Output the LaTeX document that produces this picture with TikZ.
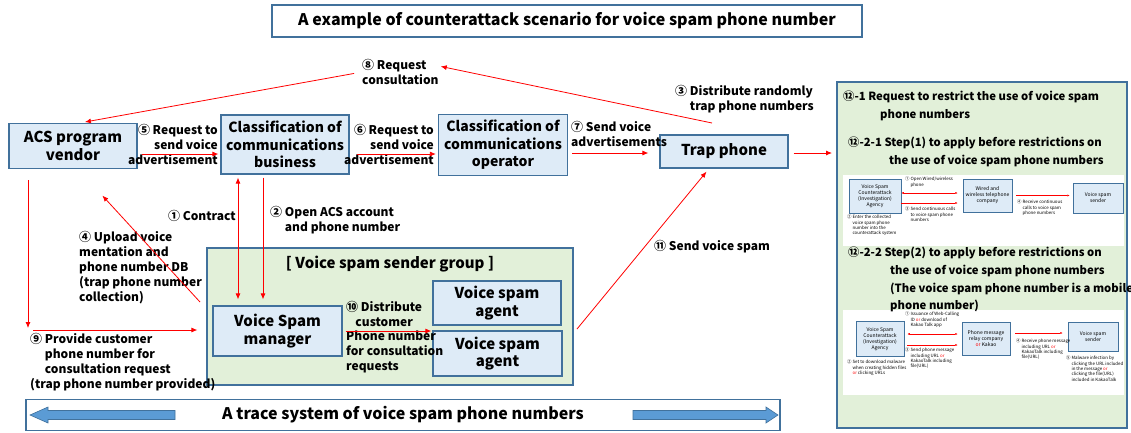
\documentclass[tikz,border=0pt]{standalone}
\usepackage{fontspec}
\setmainfont{Noto Sans CJK KR}
\usetikzlibrary{arrows.meta}
\definecolor{boxline}{HTML}{41719C}
\definecolor{boxfill}{HTML}{DEEBF7}
\definecolor{grpfill}{HTML}{E2F0D9}
\definecolor{bigblue}{HTML}{5B9BD5}
\newcommand{\orr}{\textcolor{red}{or}}
\tikzset{
	box/.style={draw=boxline, fill=boxfill, line width=1.2pt, align=center, inner sep=0pt, font=\fontsize{15}{17.5}\selectfont\bfseries},
	lbl/.style={inner sep=0pt, align=left, font=\fontsize{12}{15}\selectfont\bfseries},
	paneltxt/.style={inner sep=0pt, align=left, font=\fontsize{11.3}{17.7}\selectfont\bfseries},
	tinybox/.style={draw=boxline, fill=boxfill, line width=0.5pt, align=center, inner sep=0pt, font=\fontsize{5}{6}\selectfont},
	tinylbl/.style={inner sep=0pt, align=left, font=\fontsize{4.4}{5.3}\selectfont},
	arr/.style={draw=red, line width=0.8pt, -{Latex[length=6pt,width=5pt]}},
	tinyarr/.style={draw=red, line width=0.4pt, -{Latex[length=2.5pt,width=2pt]}},
}
\begin{document}
\begin{tikzpicture}[x=1pt,y=-1pt]
		\useasboundingbox (0,0) rectangle (1131,432);
		\node[box, fill=white, minimum width=590pt, minimum height=32pt, font=\fontsize{16}{19}\selectfont\bfseries] (title) at (567,21) {A example of counterattack scenario for voice spam phone number};
		% main boxes
		\node[box, minimum width=128pt, minimum height=45pt] (acs) at (73,146) {ACS program\\vendor};
		\node[box, minimum width=128pt, minimum height=59pt, font=\fontsize{14}{17.5}\selectfont\bfseries] (biz) at (285,144.5) {Classification of\\communications\\business};
		\node[box, minimum width=129pt, minimum height=61pt, font=\fontsize{14}{17.5}\selectfont\bfseries] (oper) at (503,145) {Classification of\\communications\\operator};
		\node[box, minimum width=128pt, minimum height=33pt] (trap) at (724,151.5) {Trap phone};
		\node[box, fill=grpfill, minimum width=366pt, minimum height=137pt] (group) at (390,316.5) {};
		\node[lbl, font=\fontsize{15}{17.5}\selectfont\bfseries] (grptitle) at (390,264) {[ Voice spam sender group ]};
		\node[box, minimum width=129pt, minimum height=50pt] (mgr) at (277.5,331) {Voice Spam\\manager};
		\node[box, minimum width=128pt, minimum height=44pt] (agent1) at (497,303) {Voice spam\\agent};
		\node[box, minimum width=129pt, minimum height=45pt] (agent2) at (497.5,353.5) {Voice spam\\agent};
		\node[box, fill=white, minimum width=754pt, minimum height=31pt, font=\fontsize{16}{18}\selectfont\bfseries] (trace) at (403,415) {A trace system of voice spam phone numbers};
		\fill[bigblue, draw=boxline, line width=0.6pt] (30,415) -- (48,407) -- (48,410.5) -- (175,410.5) -- (175,419.5) -- (48,419.5) -- (48,423) -- cycle;
		\fill[bigblue, draw=boxline, line width=0.6pt] (778,415) -- (766,407) -- (766,410.5) -- (633,410.5) -- (633,419.5) -- (766,419.5) -- (766,423) -- cycle;
		% labels
		\node[lbl, anchor=west] (n8) at (362,72) {⑧ Request\\consultation};
		\node[lbl, anchor=north west] (n3) at (675,85) {③ Distribute randomly\\\phantom{③ }trap phone numbers};
		\node[lbl, anchor=north east, align=right] (n5) at (218,124) {⑤ Request to\\send voice\\advertisement};
		\node[lbl, anchor=north east, align=right] (n6) at (434,124) {⑥ Request to\\send voice\\advertisement};
		\node[lbl, anchor=north west] (n7) at (571,121) {⑦ Send voice\\advertisements};
		\node[lbl, anchor=east] (n1) at (236,216) {① Contract};
		\node[lbl, anchor=north west] (n2) at (270,206) {② Open ACS account\\\phantom{② }and phone number};
		\node[lbl, anchor=north west] (n4) at (79,231) {④ Upload voice\\mentation and\\phone number DB\\(trap phone number\\collection)};
		\node[lbl, anchor=north west] (n9) at (30,333) {⑨ Provide customer\\\phantom{⑨ }phone number for\\\phantom{⑨ }consultation request\\(trap phone number provided)};
		\node[lbl, anchor=north west, align=center] (n10a) at (346,301) {⑩ Distribute\\customer};
		\node[lbl, anchor=north west] (n10b) at (346,331) {Phone number\\for consultation\\requests};
		\node[lbl, anchor=west] (n11) at (654,247) {⑪ Send voice spam};
		% connectors
		\coordinate (t8) at (712,123);
		\draw[arr, shorten >=2pt] (t8) -- ([yshift=6pt]n8.east);
		\draw[arr, shorten <=8pt, shorten >=5pt] (n8.west) -- ([xshift=7pt]acs.north);
		\draw[arr, shorten <=4pt, shorten >=2pt] ([yshift=-8pt]acs.east) -- ([yshift=-8pt]acs.east -| biz.west);
		\draw[arr, shorten <=7pt, shorten >=2pt] ([yshift=-9.5pt]biz.east) -- ([yshift=-9.5pt]biz.east -| oper.west);
		\draw[arr, shorten <=4pt, shorten >=11pt] ([yshift=-8pt]oper.east) -- ([yshift=-8pt]oper.east -| trap.west);
		\draw[arr, shorten <=5pt, shorten >=4pt] ([yshift=-1.5pt]trap.east) -- ([yshift=-1.5pt]trap.east -| 836,0);
		\draw[arr, {Latex[length=6pt,width=5pt]}-{Latex[length=6pt,width=5pt]}, shorten <=3pt, shorten >=6pt] ([xshift=-47pt]biz.south) -- ([xshift=-47pt]biz.south |- mgr.north);
		\draw[arr, shorten <=3pt, shorten >=6pt] ([xshift=-22pt]biz.south) -- ([xshift=-22pt]biz.south |- mgr.north);
		\coordinate (p4) at (200,302);
		\draw[arr] (p4) -- ([xshift=94pt,yshift=-26.5pt]acs.south west);
		\draw[arr, shorten <=11pt] ([xshift=-45pt]acs.south) -- ([xshift=-45pt]acs.south |- 0,328);
		\coordinate (c9) at (33,330);
		\draw[arr, shorten >=9pt] (c9) -- (c9 -| group.west);
		\draw[arr, shorten <=3pt, shorten >=1pt] (mgr.east) -- (mgr.east -| agent2.west);
		\coordinate (c11) at (577,329);
		\draw[arr, shorten >=4pt] (c11) -- ([xshift=-15pt]trap.south);
		% right panel
		\node[box, fill=grpfill, minimum width=290pt, minimum height=346pt] (panel) at (982,255) {};
		\node[draw=none, fill=white, minimum width=281pt, minimum height=71pt, inner sep=0pt] (inset1) at (983.5,210.5) {};
		\node[draw=none, fill=white, minimum width=281pt, minimum height=85pt, inner sep=0pt] (inset2) at (983.5,352.5) {};
		\node[paneltxt, anchor=north west] (p1) at (843,91) {⑫-1 Request to restrict the use of voice spam\\\hspace{37pt}phone numbers};
		\node[paneltxt, anchor=north west] (p21) at (848,137) {⑫-2-1 Step(1) to apply before restrictions on\\\hspace{41pt}the use of voice spam phone numbers};
		\node[paneltxt, anchor=north west] (p22) at (848,247) {⑫-2-2 Step(2) to apply before restrictions on\\\hspace{42pt}the use of voice spam phone numbers\\\hspace{42pt}(The voice spam phone number is a mobile\\\hspace{42pt}phone number)};
		% inset 1
		\node[tinybox, minimum width=52pt, minimum height=34pt] (ia) at (875,196) {Voice Spam\\Counterattack\\(Investigation)\\Agency};
		\node[tinybox, minimum width=49pt, minimum height=33pt] (ib) at (987.5,195.5) {Wired and\\wireless telephone\\company};
		\node[tinybox, minimum width=50pt, minimum height=30pt] (ic) at (1098,198) {Voice spam\\sender};
		\node[tinylbl, anchor=north west] (ia2) at (847,215) {② Enter the collected\\\phantom{② }voice spam phone\\\phantom{② }number into the\\\phantom{② }counterattack system};
		\node[tinylbl, anchor=north west] (ia1) at (905,177) {① Open Wired/wireless\\\phantom{① }phone};
		\node[tinylbl, anchor=north west] (ia3) at (905,207) {③ Send continuous calls\\\phantom{③ }to voice spam phone\\\phantom{③ }numbers};
		\node[tinylbl, anchor=north west] (ia4) at (1017,200) {④ Receive continuous\\\phantom{④ }calls to voice spam\\\phantom{④ }phone numbers};
		\draw[tinyarr, {Latex[length=2.5pt,width=2pt]}-{Latex[length=2.5pt,width=2pt]}, shorten >=5pt] ([yshift=3pt]ia.east) -- ([yshift=3pt]ia.east -| ib.west);
		\draw[tinyarr, shorten >=5pt] ([yshift=-7pt]ia.east) -- ([yshift=-7pt]ia.east -| ib.west);
		\draw[tinyarr, shorten <=4pt, shorten >=3pt] (ib.east) -- (ib.east -| ic.west);
		% inset 2
		\node[tinybox, minimum width=48pt, minimum height=35pt] (ja) at (880,339) {Voice Spam\\Counterattack\\(Investigation)\\Agency};
		\node[tinybox, minimum width=48pt, minimum height=33pt] (jb) at (986,338.5) {Phone message\\relay company\\\orr{} Kakao};
		\node[tinybox, minimum width=50pt, minimum height=29pt] (jc) at (1093,337) {Voice spam\\sender};
		\node[tinylbl, anchor=north west] (ja2) at (847,360) {② Set to download malware\\\phantom{② }when creating hidden files\\\phantom{② }\orr{} clicking URLs};
		\node[tinylbl, anchor=north west] (ja1) at (905,312) {① Issuance of Web-Calling\\\phantom{① }ID \orr{} download of\\\phantom{① }Kakao Talk app};
		\node[tinylbl, anchor=north west] (ja3) at (905,348) {③ Send phone message\\\phantom{③ }including URL \orr{}\\\phantom{③ }KakaoTalk including\\\phantom{③ }file(URL)};
		\node[tinylbl, anchor=north west] (ja4) at (1016,339) {④ Receive phone message\\\phantom{④ }including URL \orr{}\\\phantom{④ }KakaoTalk including\\\phantom{④ }file(URL)};
		\node[tinylbl, anchor=north west] (ja5) at (1066,356) {⑤ Malware infection by\\\phantom{⑤ }clicking the URL included\\\phantom{⑤ }in the message \orr{}\\\phantom{⑤ }clicking the file(URL)\\\phantom{⑤ }included in KakaoTalk};
		\draw[tinyarr, {Latex[length=2.5pt,width=2pt]}-{Latex[length=2.5pt,width=2pt]}, shorten <=3pt, shorten >=4pt] ([yshift=5pt]ja.east) -- ([yshift=5pt]ja.east -| jb.west);
		\draw[tinyarr, shorten <=3pt, shorten >=4pt] ([yshift=-6pt]ja.east) -- ([yshift=-6pt]ja.east -| jb.west);
		\draw[tinyarr, shorten <=5pt, shorten >=5pt] ([yshift=5.5pt]jb.east) -- ([yshift=5.5pt]jb.east -| jc.west);
\end{tikzpicture}
\end{document}
